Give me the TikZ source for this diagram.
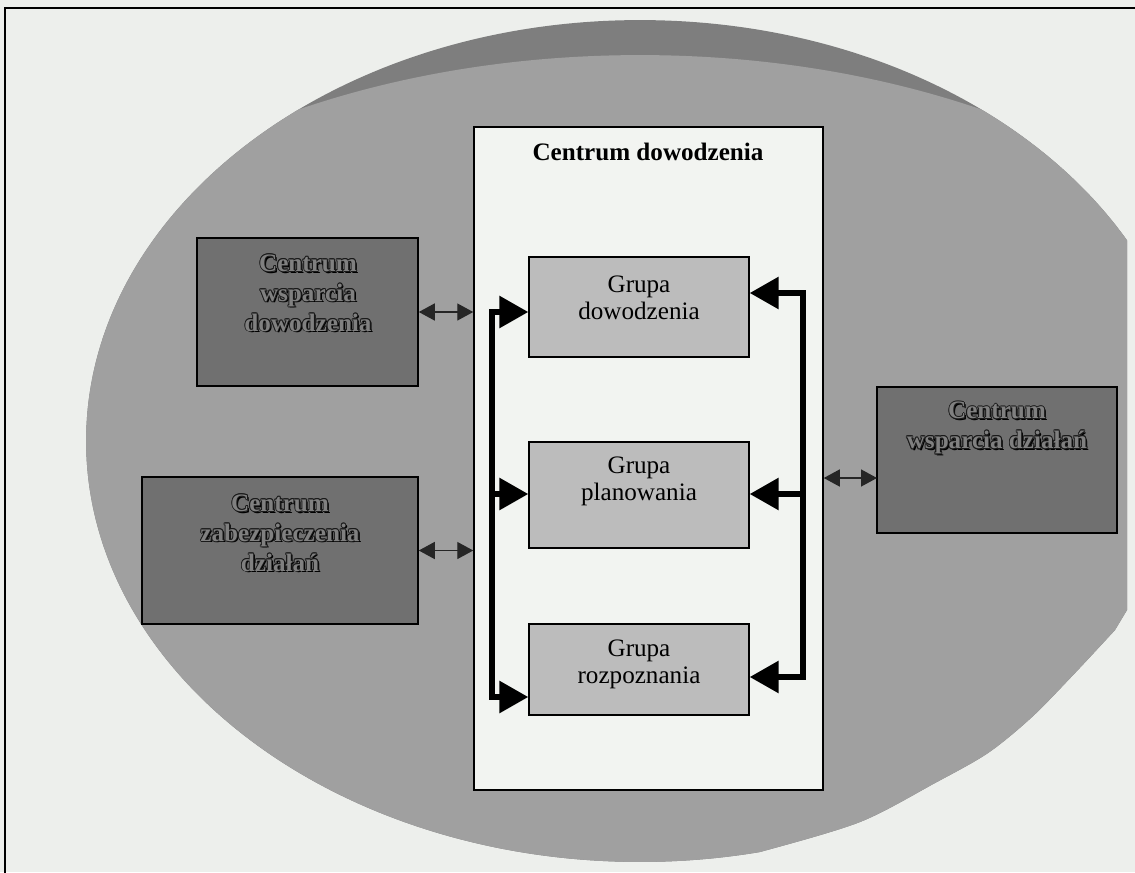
\documentclass[tikz,border=0pt]{standalone}
\usepackage{fontspec}
\setmainfont{Liberation Serif}
\usetikzlibrary{arrows.meta}

\definecolor{paper}{RGB}{237,239,236}
\definecolor{ovalmain}{RGB}{160,160,160}
\definecolor{ovalrim}{RGB}{126,126,126}
\definecolor{darkfill}{RGB}{112,112,112}
\definecolor{groupfill}{RGB}{188,188,188}
\definecolor{panelfill}{RGB}{242,244,241}
\definecolor{embface}{RGB}{128,128,128}

% outlined, shadowed label for the dark side boxes
\newcommand\embossedlabel[3]{%
  \node[embshadow,xshift=1pt,yshift=-1pt] (#1-sh) at (#2) {#3};
  \foreach \dx/\dy [count=\k] in {0.5/0,-0.5/0,0/0.5,0/-0.5,0.36/0.36,-0.36/0.36,0.36/-0.36,-0.36/-0.36}
    \node[embedge,xshift=\dx pt,yshift=\dy pt] (#1-e\k) at (#2) {#3};
  \node[embtop] (#1) at (#2) {#3};
}

\begin{document}
\begin{tikzpicture}[
  x=0.02cm, y=-0.02cm,
  frame/.style={draw=black, line width=0.9pt},
  darkbox/.style={draw=black, line width=0.9pt, fill=darkfill, inner sep=0pt},
  groupbox/.style={draw=black, line width=0.8pt, fill=groupfill, inner sep=0pt, minimum width=4.40cm},
  panel/.style={draw=black, line width=0.9pt, fill=panelfill, inner sep=0pt},
  embbase/.style={align=center, inner sep=0pt, font=\fontsize{14.3}{17}\selectfont\bfseries},
  embshadow/.style={embbase, text=black},
  embedge/.style={embbase, text=black!90},
  embtop/.style={embbase, text=embface},
  grouptext/.style={align=center, inner sep=0pt, font=\fontsize{14.3}{15.4}\selectfont},
  titletext/.style={inner sep=0pt, font=\fontsize{14.3}{17}\selectfont\bfseries},
  dbl/.style={draw=black!85, line width=0.8pt, {Triangle[length=0.32cm,width=0.34cm]}-{Triangle[length=0.32cm,width=0.34cm]}},
  bus/.style={draw=black, line width=0.12cm, line join=miter},
  busboth/.style={bus, {Triangle[length=0.58cm,width=0.62cm]}-{Triangle[length=0.58cm,width=0.62cm]}},
  busend/.style={bus, -{Triangle[length=0.58cm,width=0.62cm]}}
]
\useasboundingbox (0,0) rectangle (1135,872);
\clip (0,0) rectangle (1135,872);

% paper and outer frame
\fill[paper] (0,0) rectangle (1135,872);
\draw[frame] (5,8) rectangle (1150,890);

% grey oval behind everything, flattened and trimmed on the right
\begin{scope}
  \clip (0,0) -- (1127,0) -- (1127,610)
    -- plot[smooth] coordinates {(1115,630) (1075,673) (1032,717) (988,753) (935,783) (860,822) (760,852) (680,872)}
    -- (0,872) -- cycle;
  \fill[ovalrim] (640,441) ellipse [x radius=11.08cm, y radius=8.42cm];
  \clip (640,441) ellipse [x radius=11.08cm, y radius=8.42cm];
  \fill[ovalmain] (640,484) ellipse [x radius=14cm, y radius=8.58cm];
\end{scope}

% central panel
\node[panel, minimum width=6.98cm, minimum height=13.26cm] (cd) at (648.5,458.5) {};
\node[titletext] (cdt) at (648,152) {Centrum dowodzenia};

% groups inside the panel
\node[groupbox, minimum height=2.00cm] (gd) at (639,307) {};
\node[groupbox, minimum height=2.12cm] (gp) at (639,495) {};
\node[groupbox, minimum height=1.82cm] (gr) at (639,669.5) {};
\node[grouptext] (gdt) at (639,298) {Grupa\\dowodzenia};
\node[grouptext] (gpt) at (639,481) {Grupa\\planowania};
\node[grouptext] (grt) at (639,664) {Grupa\\rozpoznania};

% side centres
\node[darkbox, minimum width=4.42cm, minimum height=2.96cm] (cwd) at (307.5,312) {};
\node[darkbox, minimum width=5.52cm, minimum height=2.94cm] (czd) at (280,550.5) {};
\node[darkbox, minimum width=4.80cm, minimum height=2.92cm] (cwdz) at (997,460) {};
\embossedlabel{cwdt}{308,293}{Centrum\\wsparcia\\dowodzenia}
\embossedlabel{czdt}{280,533}{Centrum\\zabezpieczenia\\działań}
\embossedlabel{cwdzt}{997,428}{Centrum\\wsparcia działań}

% links between the side centres and the panel
\coordinate (rlink) at (877,478);
\draw[dbl] (cwd.east) -- (cwd.east -| cd.west);
\draw[dbl] (czd.east) -- (czd.east -| cd.west);
\draw[dbl] (rlink -| cd.east) -- (rlink);

% left distribution bus
\coordinate (lt) at (492,312);
\coordinate (lm) at (492,494);
\coordinate (lb) at (492,697);
\draw[busboth] (lt -| gd.west) -- (lt) -- (lb) -- (lb -| gr.west);
\draw[busend] (lm) -- (lm -| gp.west);

% right distribution bus
\coordinate (rt) at (803,293);
\coordinate (rm) at (803,494);
\coordinate (rb) at (803,677);
\draw[busboth] (rt -| gd.east) -- (rt) -- (rb) -- (rb -| gr.east);
\draw[busend] (rm) -- (rm -| gp.east);
\end{tikzpicture}
\end{document}
